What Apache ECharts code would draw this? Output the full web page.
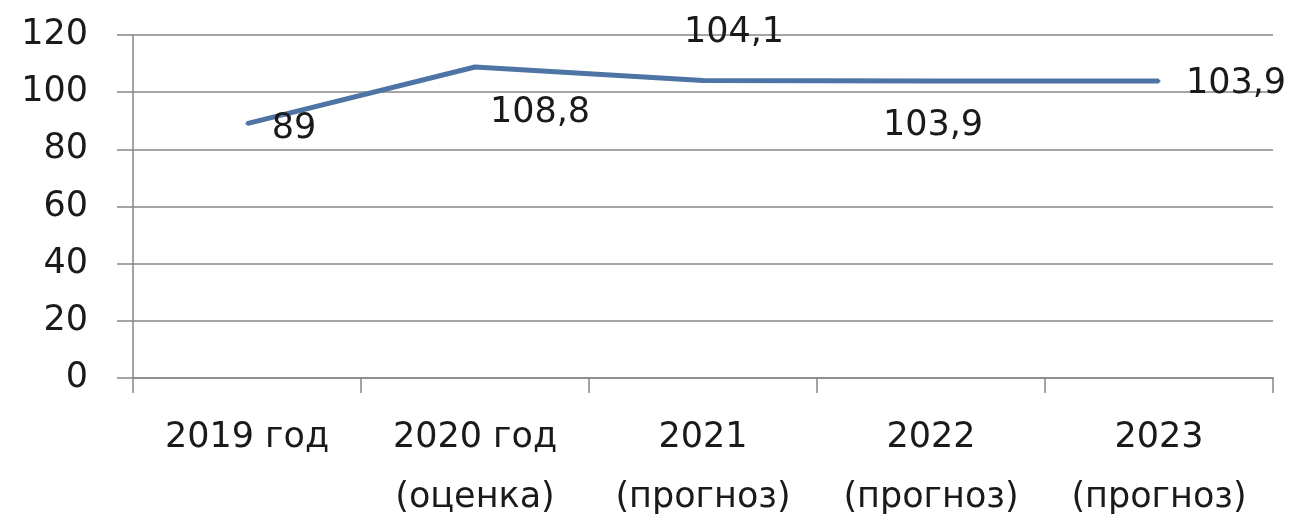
<!DOCTYPE html>
<html>
<head>
<meta charset="utf-8">
<script src="https://cdn.jsdelivr.net/npm/echarts@6/dist/echarts.min.js"></script>
<style>
  html, body { margin: 0; padding: 0; background: #fff; }
  #chart { width: 1297px; height: 522px; }
</style>
</head>
<body>
<div id="chart"></div>
<script>
const categories = ['2019 год', '2020 год\n(оценка)', '2021\n(прогноз)', '2022\n(прогноз)', '2023\n(прогноз)']
const values = [89, 108.8, 104.1, 103.9, 103.9]
const yTicks = [0, 20, 40, 60, 80, 100, 120]
// where each value label sits relative to its point (px)
const labelOffsets = [[47, 5], [65, 46], [31, -48], [2, 45], [77, 3]]

const chart = echarts.init(document.getElementById('chart'))
const font = 'DejaVu Sans'
const grey = '#868686'

chart.setOption({
  animation: false,
  grid: { left: 133, right: 24, top: 35, bottom: 144, outerBoundsMode: 'none', containLabel: false },
  xAxis: {
    type: 'category',
    data: categories,
    axisLine: { lineStyle: { color: grey, width: 1.5 } },
    axisTick: { show: true, alignWithLabel: false, length: 15, lineStyle: { color: grey, width: 1.5 } },
    axisLabel: {
      color: '#1a1a1a', fontFamily: font, fontSize: 35,
      lineHeight: 60, margin: 30, interval: 0
    }
  },
  yAxis: {
    type: 'value',
    min: yTicks[0],
    max: yTicks[yTicks.length - 1],
    interval: 20,
    axisLine: { show: true, lineStyle: { color: grey, width: 1.5 } },
    axisTick: { show: true, length: 16, lineStyle: { color: grey, width: 1.5 } },
    splitLine: { lineStyle: { color: grey, width: 1.5 } },
    axisLabel: { color: '#1a1a1a', fontFamily: font, fontSize: 35, margin: 45 }
  },
  series: [{
    type: 'line',
    data: values.map((v, i) => ({
      value: v,
      label: { position: 'inside', offset: labelOffsets[i] }
    })),
    symbol: 'circle',
    symbolSize: 3,
    itemStyle: { color: '#4e74a6' },
    lineStyle: { color: '#4e74a6', width: 5 },
    label: {
      show: true,
      color: '#1a1a1a',
      fontFamily: font,
      fontSize: 35,
      formatter: (p) => String(p.value).replace('.', ',')
    }
  }]
})
</script>
</body>
</html>
